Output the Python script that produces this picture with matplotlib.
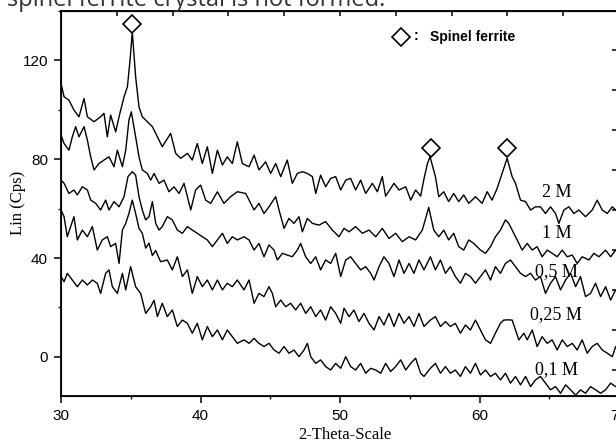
import matplotlib
matplotlib.use("Agg")
import matplotlib.pyplot as plt
from matplotlib.ticker import MultipleLocator

# XRD traces (2-theta in degrees, Lin (Cps))
x_2m = [30.0, 30.22, 30.57, 30.93, 31.29, 31.65, 31.89, 32.37, 32.84, 33.08, 33.32, 33.56, 33.92, 34.16,
        34.52, 34.76, 34.95, 35.11, 35.35, 35.59, 35.83, 36.19, 36.55, 36.91, 37.26, 37.86, 38.22, 38.58,
        39.06, 39.41, 39.77, 40.13, 40.49, 40.85, 41.21, 41.57, 41.92, 42.28, 42.64,
        43.0, 43.48, 43.84, 44.19, 44.67, 45.03, 45.39, 45.75, 46.22, 46.58, 46.94, 47.3, 47.66, 48.02,
        48.26, 48.61, 48.97, 49.33, 49.69, 50.05, 50.41, 50.76, 51.12, 51.48, 51.84, 52.32, 52.68, 53.03,
        53.27, 53.87, 54.23, 54.71, 55.07, 55.42, 55.78, 56.02, 56.26, 56.45,
        56.84, 57.08, 57.44, 57.79, 58.15, 58.51, 58.87, 59.23, 59.71, 60.19, 60.55, 60.9, 61.26, 61.62,
        61.98, 62.34, 62.58, 62.94, 63.3, 63.66, 64.01, 64.37, 64.73, 65.09, 65.45, 65.69, 66.05, 66.41,
        66.77, 67.12, 67.6, 68.08, 68.44, 68.8, 69.16, 69.52, 69.76, 70.0]
y_2m = [110.6, 105.2, 103.8, 99.8, 97.1, 104.5, 97.1, 95.1, 97.1, 98.5, 89.0, 97.8, 91.0, 97.1,
        105.2, 109.2, 120.0, 131.4, 113.3, 101.1, 97.1, 95.1, 93.1, 89.0, 85.0, 90.4, 82.3, 80.3,
        82.3, 79.6, 86.3, 78.2, 85.0, 74.2, 83.6, 77.6, 80.9, 78.2, 87.0,
        78.2, 76.9, 81.6, 75.6, 78.9, 74.2, 78.2, 72.9, 79.6, 70.2, 74.2, 74.9, 74.2, 72.9,
        66.1, 73.5, 68.8, 72.2, 72.9, 67.5, 71.5, 72.2, 67.5, 71.5, 66.1, 70.2, 66.8, 72.9,
        65.0, 70.2, 67.5, 68.8, 63.4, 67.5, 65.0, 72.0, 78.0, 81.0,
        72.9, 64.8, 66.8, 62.8, 66.1, 62.8, 65.5, 62.1, 64.8, 62.1, 66.8, 63.4, 68.1, 74.2,
        80.3, 72.9, 70.2, 63.4, 62.8, 59.4, 60.7, 60.7, 58.0, 60.7, 58.0, 54.0, 59.4, 60.7,
        58.0, 59.4, 56.7, 59.4, 63.4, 59.4, 58.0, 60.7, 59.4, 60.0]

x_1m = [30.0, 30.22, 30.57, 30.81, 31.05, 31.29, 31.65, 31.89, 32.13, 32.37, 32.72, 33.08, 33.44, 33.8,
        34.04, 34.4, 34.64, 34.87, 35.04, 35.35, 35.59, 35.83, 36.19, 36.43, 36.67, 37.03, 37.38, 37.74,
        38.1, 38.46, 38.82, 39.3, 39.65, 40.01, 40.37, 40.73, 41.21, 41.68, 42.16, 42.64,
        43.24, 43.84, 44.19, 44.55, 44.91, 45.39, 45.63, 45.99, 46.34, 46.7, 47.06, 47.3, 47.66, 48.02,
        48.49, 48.97, 49.45, 49.93, 50.29, 50.65, 51.12, 51.6, 52.08, 52.56, 53.03, 53.51, 53.99, 54.47,
        54.95, 55.42, 55.9, 56.14, 56.36,
        56.72, 57.08, 57.44, 57.79, 58.15, 58.51, 58.87, 59.23, 59.59, 60.07, 60.43, 60.79, 61.14, 61.5,
        61.86, 62.1, 62.34, 62.7, 63.06, 63.42, 63.78, 64.13, 64.49, 64.85, 65.21, 65.57, 65.93, 66.29,
        66.65, 67.0, 67.36, 67.84, 68.2, 68.56, 69.04, 69.4, 69.76, 70.0]
y_1m = [89.7, 86.3, 83.6, 89.0, 93.1, 89.0, 93.1, 87.7, 80.9, 75.6, 78.2, 79.6, 80.9, 76.9,
        83.6, 76.9, 83.6, 95.8, 99.1, 89.0, 80.9, 75.6, 74.2, 71.5, 74.2, 70.2, 71.5, 66.8,
        68.8, 66.1, 70.2, 59.4, 67.5, 69.5, 63.4, 62.1, 66.8, 62.1, 64.8, 66.8,
        66.1, 59.4, 62.1, 58.0, 60.7, 64.8, 59.4, 52.0, 56.0, 54.0, 56.7, 50.6, 56.0, 54.0,
        53.3, 54.7, 51.3, 48.6, 52.0, 50.6, 52.7, 50.0, 51.3, 48.6, 52.0, 47.9, 50.0, 46.6,
        48.6, 47.3, 51.3, 56.0, 60.5,
        51.3, 48.6, 51.3, 47.3, 50.0, 44.6, 43.2, 47.3, 45.9, 43.2, 41.9, 44.6, 48.6, 51.3,
        55.4, 54.0, 51.3, 47.3, 43.2, 45.9, 43.2, 44.6, 40.5, 43.2, 41.9, 40.5, 43.2, 40.5,
        41.2, 37.8, 40.5, 39.2, 41.9, 40.5, 43.2, 40.5, 43.2, 42.0]

x_05m = [30.0, 30.22, 30.57, 30.93, 31.17, 31.53, 31.89, 32.13, 32.49, 32.84, 33.2, 33.44, 33.8, 34.16,
         34.52, 34.8, 35.11, 35.35, 35.59, 35.83, 36.07, 36.31, 36.55, 36.79, 37.03, 37.26, 37.62, 37.98,
         38.34, 38.7, 39.06, 39.41, 39.77, 40.13, 40.49, 40.85, 41.21, 41.57, 41.92, 42.28, 42.64,
         43.12, 43.48, 43.84, 44.19, 44.55, 44.91, 45.27, 45.51, 45.87, 46.22, 46.58, 46.94, 47.18, 47.54,
         47.9, 48.26, 48.61, 48.97, 49.33, 49.69, 50.05, 50.41, 50.76, 51.12, 51.48, 51.84, 52.2, 52.44,
         52.8, 53.15, 53.51, 53.87, 54.23, 54.59, 54.95, 55.3, 55.66, 56.02,
         56.48, 56.84, 57.2, 57.56, 57.91, 58.27, 58.63, 58.99, 59.35, 59.71, 60.07, 60.43, 60.79, 61.14,
         61.5, 61.86, 62.22, 62.58, 62.94, 63.3, 63.66, 64.01, 64.37, 64.73, 65.09, 65.45, 65.81, 66.17,
         66.53, 66.89, 67.24, 67.6, 67.96, 68.32, 68.68, 69.04, 69.4, 69.76, 70.0]
y_05m = [71.5, 70.2, 66.1, 67.5, 65.5, 68.8, 67.5, 63.4, 62.1, 59.4, 63.4, 59.4, 62.8, 60.7,
         64.8, 72.9, 74.9, 73.5, 64.8, 59.4, 55.4, 56.7, 62.8, 54.0, 51.3, 52.7, 56.7, 55.4,
         51.3, 50.0, 52.7, 51.3, 50.0, 48.6, 47.3, 44.6, 47.3, 50.0, 45.9, 48.6, 47.3,
         48.6, 47.3, 43.2, 45.9, 40.5, 45.3, 43.2, 39.2, 41.9, 41.2, 40.5, 43.2, 45.9, 40.5,
         37.8, 40.5, 35.2, 39.2, 37.8, 41.9, 32.5, 39.2, 40.5, 37.8, 35.2, 36.5, 33.8, 31.1,
         36.5, 40.5, 37.8, 32.5, 39.2, 33.8, 37.8, 33.8, 39.2, 35.2,
         40.5, 35.2, 39.2, 33.8, 36.5, 32.5, 29.8, 33.8, 32.5, 29.8, 32.5, 35.2, 31.1, 36.5,
         33.8, 37.8, 39.2, 36.5, 33.8, 32.5, 33.8, 31.1, 32.5, 25.7, 29.8, 32.5, 27.1, 31.1,
         33.8, 28.4, 32.5, 24.4, 25.7, 29.8, 24.4, 28.4, 23.0, 27.1, 25.0]

x_025m = [30.0, 30.22, 30.45, 30.69, 30.93, 31.17, 31.53, 31.89, 32.25, 32.6, 32.96, 33.32, 33.56, 33.92,
          34.16, 34.4, 34.64, 34.87, 35.11, 35.35, 35.59, 35.83, 36.07, 36.31, 36.55, 36.79, 37.14, 37.62,
          37.98, 38.34, 38.7, 39.06, 39.41, 39.77, 40.13, 40.49, 40.85, 41.21, 41.57, 41.92, 42.28, 42.64,
          43.12, 43.48, 43.84, 44.19, 44.55, 44.91, 45.15, 45.39, 45.75, 46.11, 46.46, 46.82, 47.18, 47.54,
          47.9, 48.26, 48.61, 48.97, 49.33, 49.69, 50.05, 50.29, 50.65, 51.0, 51.36, 51.72, 52.08, 52.44,
          52.8, 53.15, 53.51, 53.87, 54.23, 54.59, 54.95, 55.3, 55.66, 56.02,
          56.48, 56.84, 57.2, 57.56, 57.91, 58.27, 58.63, 58.99, 59.35, 59.71, 60.07, 60.43, 60.79, 61.14,
          61.5, 61.74, 62.1, 62.34, 62.58, 62.82, 63.18, 63.42, 63.78, 64.13, 64.49, 64.85, 65.21, 65.57,
          65.93, 66.29, 66.65, 67.0, 67.36, 67.72, 68.08, 68.44, 68.8, 69.16, 69.52, 69.76, 70.0]
y_025m = [59.4, 56.7, 48.6, 52.7, 56.7, 47.3, 51.3, 48.6, 52.7, 43.2, 47.3, 48.6, 44.6, 45.9,
          37.8, 51.3, 54.0, 58.0, 63.4, 58.0, 52.0, 50.0, 44.0, 46.0, 41.0, 43.0, 38.5, 39.2,
          35.2, 40.5, 32.5, 35.2, 25.7, 32.5, 28.4, 31.1, 27.1, 31.1, 27.1, 29.8, 28.4, 31.1,
          27.1, 31.1, 21.7, 25.7, 24.4, 28.4, 25.7, 20.3, 23.0, 20.3, 21.7, 19.0, 21.7, 17.6,
          20.3, 16.3, 19.0, 14.9, 20.3, 17.6, 13.6, 19.7, 16.3, 19.0, 14.3, 17.6, 13.6, 10.9,
          16.3, 12.9, 17.6, 12.3, 17.6, 13.6, 16.3, 12.3, 17.6, 12.3,
          14.9, 16.3, 12.3, 14.3, 12.3, 13.6, 9.6, 12.9, 10.9, 14.9, 10.9, 6.9, 5.5, 9.6,
          13.6, 14.9, 15.0, 14.9, 10.9, 6.9, 9.6, 6.9, 10.9, 4.2, 8.2, 5.5, 6.9, 2.8,
          6.9, 4.2, 5.5, 2.8, 6.9, 1.5, 4.2, 5.5, 2.8, 1.5, 0.1, 4.2, 2.0]

x_01m = [30.0, 30.22, 30.45, 30.81, 31.17, 31.53, 31.89, 32.25, 32.6, 32.84, 33.2, 33.44, 33.68, 34.04,
         34.4, 34.64, 34.99, 35.35, 35.71, 36.07, 36.43, 36.67, 36.91, 37.26, 37.62, 37.98, 38.34, 38.7,
         39.06, 39.41, 39.77, 40.13, 40.49, 40.85, 41.21, 41.57, 41.92, 42.28, 42.64,
         43.12, 43.48, 43.84, 44.19, 44.55, 44.91, 45.27, 45.63, 45.99, 46.34, 46.7, 47.06, 47.42, 47.66,
         47.9, 48.26, 48.61, 48.97, 49.33, 49.69, 50.05, 50.41, 50.76, 51.12, 51.48, 51.84, 52.2, 52.56,
         52.92, 53.27, 53.63, 53.99, 54.35, 54.71, 55.07, 55.42, 55.78, 56.02,
         56.48, 56.84, 57.2, 57.56, 57.91, 58.27, 58.63, 58.99, 59.35, 59.71, 60.07, 60.43, 60.79, 61.14,
         61.5, 61.86, 62.22, 62.58, 62.94, 63.3, 63.66, 64.01, 64.37, 64.73, 65.09, 65.45, 65.81, 66.17,
         66.53, 66.89, 67.24, 67.6, 67.96, 68.32, 68.68, 69.04, 69.4, 69.76, 70.0]
y_01m = [32.5, 30.4, 33.8, 31.1, 28.4, 31.1, 29.1, 31.1, 29.8, 25.7, 33.8, 35.2, 28.4, 25.7,
         33.8, 27.1, 36.5, 28.4, 25.7, 17.6, 20.3, 22.9, 16.3, 21.7, 16.3, 19.0, 12.3, 14.9,
         13.6, 9.6, 13.6, 6.9, 12.3, 8.2, 10.9, 6.9, 10.9, 8.2, 5.5,
         6.9, 5.5, 7.5, 5.5, 4.2, 5.5, 2.8, 1.5, 4.2, 1.5, 2.8, 0.1, 2.8, 5.5,
         0.1, -2.6, -1.2, -3.9, -5.3, -2.6, -4.6, 0.1, -3.9, -5.3, -2.6, -6.6, -4.6, -5.3,
         -6.6, -2.6, -5.9, -3.9, -1.2, -5.3, -2.6, -0.5, -6.6, -7.9,
         -4.6, -2.6, -6.6, -3.9, -6.6, -5.3, -7.9, -3.9, -6.6, -2.6, -7.3, -5.3, -7.9, -6.6,
         -9.3, -6.6, -10.6, -7.9, -11.3, -7.9, -12.0, -9.3, -7.9, -10.6, -13.3, -12.0, -14.7, -11.3,
         -13.3, -15.5, -13.3, -14.7, -12.0, -13.3, -14.7, -13.3, -10.6, -12.0, -12.5]

series = [(x_2m, y_2m), (x_1m, y_1m), (x_05m, y_05m), (x_025m, y_025m), (x_01m, y_01m)]
labels = ["2 M", "1 M", "0,5 M", "0,25 M", "0,1 M"]
label_x = [65.55, 65.55, 65.53, 65.5, 65.5]
label_y = [66.3, 50.1, 34.5, 17.0, -5.3]

peak_x = [35.1, 56.5, 62.0]
peak_y = [134.8, 84.3, 84.3]

fig = plt.figure(figsize=(6.16, 4.43), dpi=100)
ax = fig.add_axes([61 / 616, 1 - 396 / 443, 558 / 616, 385.3 / 443])

for xs, ys in series:
    ax.plot(xs, ys, color="black", lw=1.0)

for lab, lx, ly in zip(labels, label_x, label_y):
    ax.text(lx, ly, lab, ha="center", va="center", fontsize=13, family="Liberation Serif")

ax.plot(peak_x, peak_y, "D", ms=9, mfc="white", mec="black", mew=1.2, clip_on=False)

# legend: diamond + text
ax.plot([54.4], [129.4], "D", ms=9, mfc="white", mec="black", mew=1.2)
ax.text(55.3, 129.8, ":", ha="left", va="center", fontsize=10, fontweight="bold",
        family=["Liberation Sans Narrow", "Liberation Sans"])
ax.text(56.45, 129.4, "Spinel ferrite", ha="left", va="center", fontsize=10, fontweight="bold",
        family=["Liberation Sans Narrow", "Liberation Sans"])

ax.set_xlim(30, 70)
ax.set_ylim(-15.8, 140)
ax.set_xticks([30, 40, 50, 60, 70])
ax.set_yticks([0, 40, 80, 120])
ax.xaxis.set_minor_locator(MultipleLocator(5))
ax.yaxis.set_minor_locator(MultipleLocator(20))
ax.tick_params(which="major", direction="out", length=5, width=1.1, pad=4.3, labelsize=11)
ax.tick_params(which="minor", direction="out", length=2.5, width=1.0)
for lab in ax.get_xticklabels() + ax.get_yticklabels():
    lab.set_family("Liberation Sans")
for sp in ax.spines.values():
    sp.set_linewidth(1.3)

ax.set_xlabel("2-Theta-Scale", family="Liberation Serif", fontsize=12)
ax.set_ylabel("Lin (Cps)", family="Liberation Serif", fontsize=12)
ax.xaxis.set_label_coords(0.509, -0.101)
ax.yaxis.set_label_coords(-0.077, 0.5)
ax.xaxis.label.set_va("center")
ax.yaxis.label.set_va("center")

# right-hand axis (labels fall outside the crop)
ax2 = ax.twinx()
ax2.set_ylim(3.5, 99.9)
ax2.set_yticks(range(10, 100, 10))
ax2.tick_params(direction="in", length=5, width=1.1, labelright=False)
ax2.spines["right"].set_linewidth(1.3)

# top axis ticks
top = ax.secondary_xaxis("top")
top.set_xticks(range(34, 70, 4))
top.tick_params(direction="in", length=3.5, width=1.1, labeltop=False)

fig.text(7 / 616, 1 - 6 / 443, "spinel ferrite crystal is not formed.", va="baseline",
         ha="left", fontsize=17, family="Open Sans", color="#333333")

fig.savefig("out.png", dpi=100)
